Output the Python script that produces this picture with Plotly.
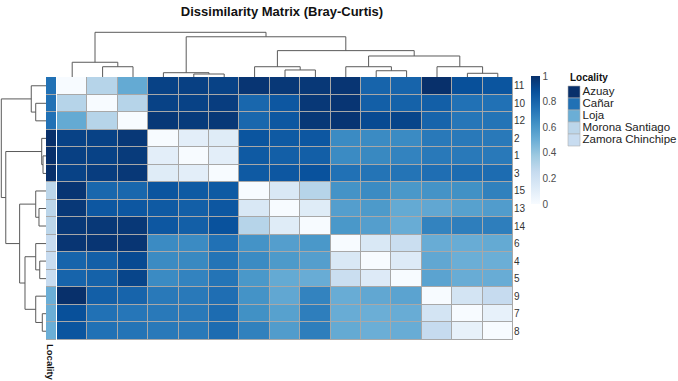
import plotly.graph_objects as go

# ---------------- data ----------------
leaf_order = ["11", "10", "12", "2", "1", "3", "15", "13", "14", "6", "4", "5", "9", "7", "8"]

dissimilarity = [
    [0.00, 0.30, 0.52, 0.93, 0.94, 0.93, 0.98, 0.97, 0.97, 0.98, 0.80, 0.80, 1.00, 0.88, 0.86],
    [0.30, 0.00, 0.30, 0.93, 0.93, 0.95, 0.79, 0.85, 0.97, 0.98, 0.82, 0.81, 0.82, 0.75, 0.75],
    [0.52, 0.30, 0.00, 0.97, 0.96, 0.97, 0.79, 0.85, 0.97, 0.98, 0.90, 0.92, 0.80, 0.73, 0.74],
    [0.93, 0.93, 0.97, 0.00, 0.10, 0.12, 0.86, 0.84, 0.85, 0.65, 0.65, 0.65, 0.72, 0.72, 0.72],
    [0.94, 0.93, 0.96, 0.10, 0.00, 0.10, 0.84, 0.82, 0.82, 0.65, 0.66, 0.68, 0.72, 0.72, 0.72],
    [0.93, 0.95, 0.97, 0.12, 0.10, 0.00, 0.84, 0.85, 0.87, 0.75, 0.74, 0.74, 0.76, 0.77, 0.77],
    [0.98, 0.79, 0.79, 0.86, 0.84, 0.84, 0.00, 0.15, 0.30, 0.62, 0.65, 0.60, 0.62, 0.63, 0.69],
    [0.97, 0.85, 0.85, 0.84, 0.82, 0.85, 0.15, 0.00, 0.12, 0.57, 0.59, 0.52, 0.53, 0.56, 0.58],
    [0.97, 0.97, 0.97, 0.85, 0.82, 0.87, 0.30, 0.12, 0.00, 0.60, 0.57, 0.51, 0.68, 0.70, 0.70],
    [0.98, 0.98, 0.98, 0.65, 0.65, 0.75, 0.62, 0.57, 0.60, 0.00, 0.15, 0.23, 0.51, 0.51, 0.52],
    [0.80, 0.82, 0.90, 0.65, 0.66, 0.74, 0.65, 0.59, 0.57, 0.15, 0.00, 0.13, 0.53, 0.50, 0.50],
    [0.80, 0.81, 0.92, 0.65, 0.68, 0.74, 0.60, 0.52, 0.51, 0.23, 0.13, 0.00, 0.55, 0.51, 0.51],
    [1.00, 0.82, 0.80, 0.72, 0.72, 0.76, 0.62, 0.53, 0.68, 0.51, 0.53, 0.55, 0.00, 0.18, 0.25],
    [0.88, 0.75, 0.73, 0.72, 0.72, 0.77, 0.63, 0.56, 0.70, 0.51, 0.50, 0.51, 0.18, 0.00, 0.08],
    [0.86, 0.75, 0.74, 0.72, 0.72, 0.77, 0.69, 0.58, 0.70, 0.52, 0.50, 0.51, 0.25, 0.08, 0.00],
]

row_locality = ["Cañar", "Cañar", "Cañar", "Azuay", "Azuay", "Azuay",
                "Morona Santiago", "Morona Santiago", "Morona Santiago",
                "Zamora Chinchipe", "Zamora Chinchipe", "Zamora Chinchipe",
                "Loja", "Loja", "Loja"]

localities = ["Azuay", "Cañar", "Loja", "Morona Santiago", "Zamora Chinchipe"]
locality_colors = ["#08306b", "#2171b5", "#6baed6", "#bcd6ea", "#c8dcf0"]

# hierarchical clustering merges (left, right, height); clusters named c0, c1, ...
merges = [
    ("10", "12", 0.23),   # c0
    ("11", "c0", 0.33),   # c1
    ("1", "3", 0.067),    # c2
    ("2", "c2", 0.096),   # c3
    ("13", "14", 0.157),  # c4
    ("15", "c4", 0.23),   # c5
    ("4", "5", 0.14),     # c6
    ("6", "c6", 0.23),    # c7
    ("7", "8", 0.083),    # c8
    ("9", "c8", 0.23),    # c9
    ("c7", "c9", 0.47),   # c10
    ("c5", "c10", 0.59),  # c11
    ("c3", "c11", 0.90),  # c12
    ("c1", "c12", 1.00),  # c13
]

colorbar_ticks = [0, 0.2, 0.4, 0.6, 0.8, 1]

# ---------------- geometry helpers ----------------
W, H = 678, 381
def fx(p): return p / W
def fy(p): return 1 - p / H

HM_L, HM_R, HM_T, HM_B = 57, 513, 77, 340
PX_PER_UNIT = 44.7

# compute dendrogram segments from merges
pos = {lab: i for i, lab in enumerate(leaf_order)}
hgt = {lab: 0.0 for lab in leaf_order}
seg_p, seg_h = [], []
for k, (a, b, h) in enumerate(merges):
    xa, xb = pos[a], pos[b]
    ha, hb = hgt[a], hgt[b]
    seg_p += [xa, xa, xb, xb, None]
    seg_h += [ha, h, h, hb, None]
    name = "c%d" % k
    pos[name] = (xa + xb) / 2
    hgt[name] = h

blues = [[0.0, "#f7fbff"], [0.125, "#deebf7"], [0.25, "#c6dbef"], [0.375, "#9ecae1"],
         [0.5, "#6baed6"], [0.625, "#4292c6"], [0.75, "#2171b5"], [0.875, "#08519c"],
         [1.0, "#08306b"]]

n = len(leaf_order)
idx = list(range(n))

fig = go.Figure()

# main heatmap
fig.add_trace(go.Heatmap(
    z=dissimilarity, x=idx, y=idx, zmin=0, zmax=1, colorscale=blues,
    xgap=1, ygap=1, xaxis="x", yaxis="y", hoverinfo="z",
    colorbar=dict(x=fx(531), xanchor="left", xpad=0, y=fy(140), yanchor="middle",
                  len=128, lenmode="pixels", thickness=9, ypad=0, outlinewidth=0,
                  ticks="", tickvals=colorbar_ticks,
                  ticktext=[("%g" % t) for t in colorbar_ticks],
                  tickfont=dict(size=10, color="#4d4d4d"))))

# top dendrogram
fig.add_trace(go.Scatter(x=seg_p, y=seg_h, mode="lines", xaxis="x2", yaxis="y2",
                         line=dict(color="#5a5a5a", width=1), hoverinfo="skip",
                         showlegend=False, cliponaxis=False))
# left dendrogram
fig.add_trace(go.Scatter(x=seg_h, y=seg_p, mode="lines", xaxis="x3", yaxis="y3",
                         line=dict(color="#5a5a5a", width=1), hoverinfo="skip",
                         showlegend=False, cliponaxis=False))

# row annotation column
loc_index = [localities.index(l) for l in row_locality]
nl = len(localities)
disc_scale = []
for i, c in enumerate(locality_colors):
    disc_scale.append([i / nl, c])
    disc_scale.append([(i + 1) / nl, c])
fig.add_trace(go.Heatmap(z=[[v] for v in loc_index], x=[0], y=idx, zmin=-0.5, zmax=nl - 0.5,
                         colorscale=disc_scale, showscale=False, ygap=1,
                         xaxis="x4", yaxis="y4", hoverinfo="skip"))

# legend as markers
fig.add_trace(go.Scatter(x=[0] * nl, y=list(range(nl)), mode="markers+text",
                         text=localities, textposition="middle right",
                         textfont=dict(size=11.5, color="#222"),
                         marker=dict(symbol="square", size=12, color=locality_colors,
                                     line=dict(color="#b0b0b0", width=0.6)),
                         xaxis="x5", yaxis="y5", hoverinfo="skip", showlegend=False,
                         cliponaxis=False))

hidden = dict(visible=False, showgrid=False, zeroline=False, fixedrange=True)

fig.update_layout(
    width=W, height=H, autosize=False,
    margin=dict(l=0, r=0, t=0, b=0),
    paper_bgcolor="white", plot_bgcolor="white",
    font=dict(family="Liberation Sans, Arial, sans-serif", color="#222"),
    showlegend=False,
    title=dict(text="Dissimilarity Matrix (Bray-Curtis)", x=fx(282), y=fy(11),
               xanchor="center", yanchor="middle",
               font=dict(size=13, weight="bold", color="#111")),
    xaxis=dict(domain=[fx(HM_L), fx(HM_R)], range=[-0.5, n - 0.5], anchor="y",
               showticklabels=False, showgrid=False, zeroline=False, ticks=""),
    yaxis=dict(domain=[fy(HM_B), fy(HM_T)], range=[n - 0.5, -0.5], anchor="x",
               side="right", tickvals=idx, ticktext=leaf_order, ticks="",
               tickfont=dict(size=10, color="#333"), showgrid=False, zeroline=False),
    xaxis2=dict(domain=[fx(HM_L), fx(HM_R)], range=[-0.5, n - 0.5], anchor="y2", **hidden),
    yaxis2=dict(domain=[fy(HM_T), fy(30)], range=[0, (HM_T - 30) / PX_PER_UNIT], anchor="x2", **hidden),
    xaxis3=dict(domain=[0, fx(46)], range=[46 / PX_PER_UNIT, 0], anchor="y3", **hidden),
    yaxis3=dict(domain=[fy(HM_B), fy(HM_T)], range=[n - 0.5, -0.5], anchor="x3", **hidden),
    xaxis4=dict(domain=[fx(46), fx(56)], range=[-0.5, 0.5], anchor="y4", **hidden),
    yaxis4=dict(domain=[fy(HM_B), fy(HM_T)], range=[n - 0.5, -0.5], anchor="x4", **hidden),
    xaxis5=dict(domain=[fx(568), fx(600)], range=[-6, 26], anchor="y5", **hidden),
    yaxis5=dict(domain=[fy(146), fy(86)], range=[nl - 0.5, -0.5], anchor="x5", **hidden),
    shapes=[
        dict(type="rect", xref="x", yref="y", x0=-0.5, x1=n - 0.5, y0=-0.5, y1=n - 0.5,
             fillcolor="#a8a8a8", line=dict(width=0), layer="below"),
        dict(type="rect", xref="x4", yref="y4", x0=-0.5, x1=0.5, y0=-0.5, y1=n - 0.5,
             fillcolor="#a8a8a8", line=dict(width=0), layer="below"),
    ],
    annotations=[
        dict(text="<b>Locality</b>", x=fx(568), y=fy(77), xref="paper", yref="paper",
             xanchor="left", yanchor="middle", showarrow=False,
             font=dict(size=10, color="#111")),
        dict(text="<b>Locality</b>", x=fx(51), y=fy(362), xref="paper", yref="paper",
             xanchor="center", yanchor="middle", textangle=90, showarrow=False,
             borderpad=0, font=dict(size=9.5, color="#111")),
    ],
)

fig.write_html("out.html",
               config={"displayModeBar": False},
               post_script="document.body.style.margin='0';document.body.style.overflow='hidden';")
